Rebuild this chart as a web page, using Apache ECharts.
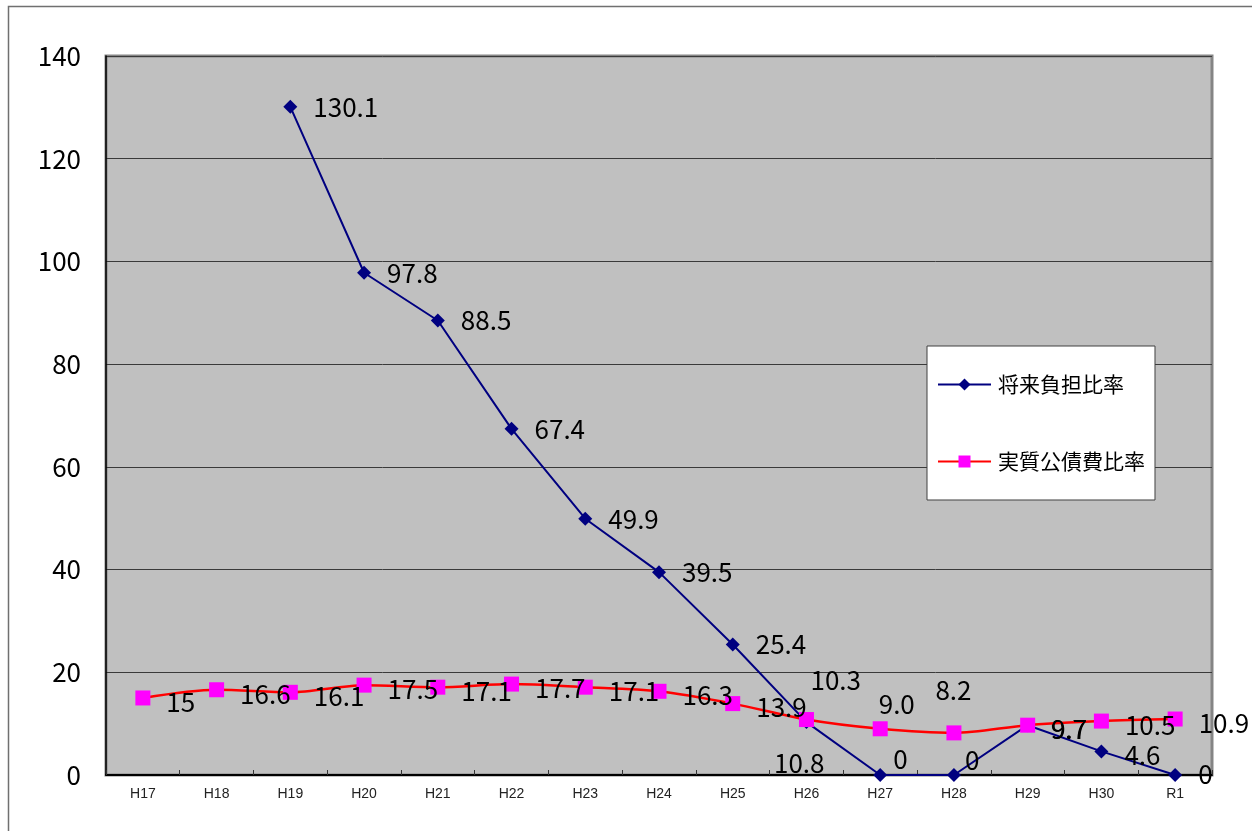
<!DOCTYPE html>
<html>
<head>
<meta charset="utf-8">
<script src="https://cdn.jsdelivr.net/npm/echarts@6/dist/echarts.min.js"></script>
<style>
  html, body { margin: 0; padding: 0; background: #fff; }
  #chart { width: 1252px; height: 831px; }
</style>
</head>
<body>
<div id="chart"></div>
<script>
// Fiscal years (Heisei 17 .. Reiwa 1)
const years = ['H17', 'H18', 'H19', 'H20', 'H21', 'H22', 'H23', 'H24', 'H25', 'H26', 'H27', 'H28', 'H29', 'H30', 'R1'];

// 将来負担比率 (no figure before H19)
const futureBurden = [null, null, 130.1, 97.8, 88.5, 67.4, 49.9, 39.5, 25.4, 10.3, 0, 0, 9.7, 4.6, 0];

// 実質公債費比率
const debtService = [15, 16.6, 16.1, 17.5, 17.1, 17.7, 17.1, 16.3, 13.9, 10.8, 9.0, 8.2, 9.7, 10.5, 10.9];

// Shown label text for the debt-service series (one decimal kept where published that way)
const debtServiceText = ['15', '16.6', '16.1', '17.5', '17.1', '17.7', '17.1', '16.3', '13.9', '10.8', '9.0', '8.2', '9.7', '10.5', '10.9'];

const yTicks = { min: 0, max: 140, interval: 20 };

const seriesNames = ['将来負担比率', '実質公債費比率'];

// Label nudges for crowded points near the bottom of the chart
const futureOffsets = { 9: [-19, -42], 10: [-10, -16], 11: [-12, -15], 12: [0, 4], 13: [0, 4], 14: [0, -1] };
const debtOffsets = { 9: [-56, 44], 10: [-25, -25], 11: [-42, -43], 12: [0, 4] };

const numFont = '"Noto Sans CJK JP", "Liberation Sans", sans-serif';

const labelFont = {
  fontFamily: numFont,
  fontSize: 26,
  color: '#000'
};

function buildData(values, offsets, defaultOffset, texts) {
  return values.map((v, i) => {
    if (v === null) return { value: null };
    const item = { value: v };
    const lbl = { offset: offsets[i] || defaultOffset };
    if (texts) lbl.formatter = texts[i];
    item.label = lbl;
    return item;
  });
}

const chart = echarts.init(document.getElementById('chart'));

chart.setOption({
  animation: false,
  backgroundColor: '#fff',
  graphic: [{
    type: 'rect',
    left: 6, top: 4,
    shape: { width: 1400, height: 1000 },
    style: { fill: 'none', stroke: '#707070', lineWidth: 1.5 },
    z: -10
  }],
  grid: {
    left: 106, right: 40, top: 56, bottom: 56,
    show: true,
    backgroundColor: '#C0C0C0',
    borderColor: '#858585',
    borderWidth: 3
  },
  legend: {
    orient: 'vertical',
    left: 927, top: 346,
    width: 229,
    padding: [28, 10, 28, 10],
    itemWidth: 53,
    itemHeight: 15,
    itemGap: 56,
    backgroundColor: '#fff',
    borderColor: '#404040',
    borderWidth: 1,
    textStyle: {
      fontFamily: '"Noto Sans CJK JP", sans-serif',
      fontSize: 21,
      color: '#000',
      padding: [0, 0, 0, 2]
    },
    data: seriesNames
  },
  xAxis: {
    type: 'category',
    data: years,
    boundaryGap: true,
    axisLine: { show: true, lineStyle: { color: '#000', width: 2 } },
    axisTick: { show: true, inside: true, length: 5, lineStyle: { color: '#333' } },
    axisLabel: {
      margin: 12,
      fontFamily: '"Liberation Sans", Arial, sans-serif',
      fontSize: 14,
      color: '#222'
    },
    splitLine: { show: false }
  },
  yAxis: {
    type: 'value',
    min: yTicks.min, max: yTicks.max, interval: yTicks.interval,
    axisLine: { show: true, lineStyle: { color: '#000', width: 1.5 } },
    axisTick: { show: false },
    axisLabel: {
      margin: 25,
      fontFamily: numFont,
      fontSize: 26,
      color: '#000'
    },
    splitLine: { show: true, lineStyle: { color: '#3a3a3a', width: 1 } }
  },
  series: [
    {
      name: seriesNames[0],
      type: 'line',
      data: buildData(futureBurden, futureOffsets, [0, 0]),
      symbol: 'diamond',
      symbolSize: 14,
      itemStyle: { color: '#000080' },
      lineStyle: { color: '#000080', width: 2 },
      label: Object.assign({ show: true, position: 'right', distance: 16 }, labelFont),
      z: 2
    },
    {
      name: seriesNames[1],
      type: 'line',
      data: buildData(debtService, debtOffsets, [0, 4], debtServiceText),
      smooth: 0.3,
      symbol: 'rect',
      symbolSize: 15,
      itemStyle: { color: '#FF00FF' },
      lineStyle: { color: '#FF0000', width: 2.5 },
      label: Object.assign({ show: true, position: 'right', distance: 16 }, labelFont),
      z: 3
    }
  ]
});
</script>
</body>
</html>
